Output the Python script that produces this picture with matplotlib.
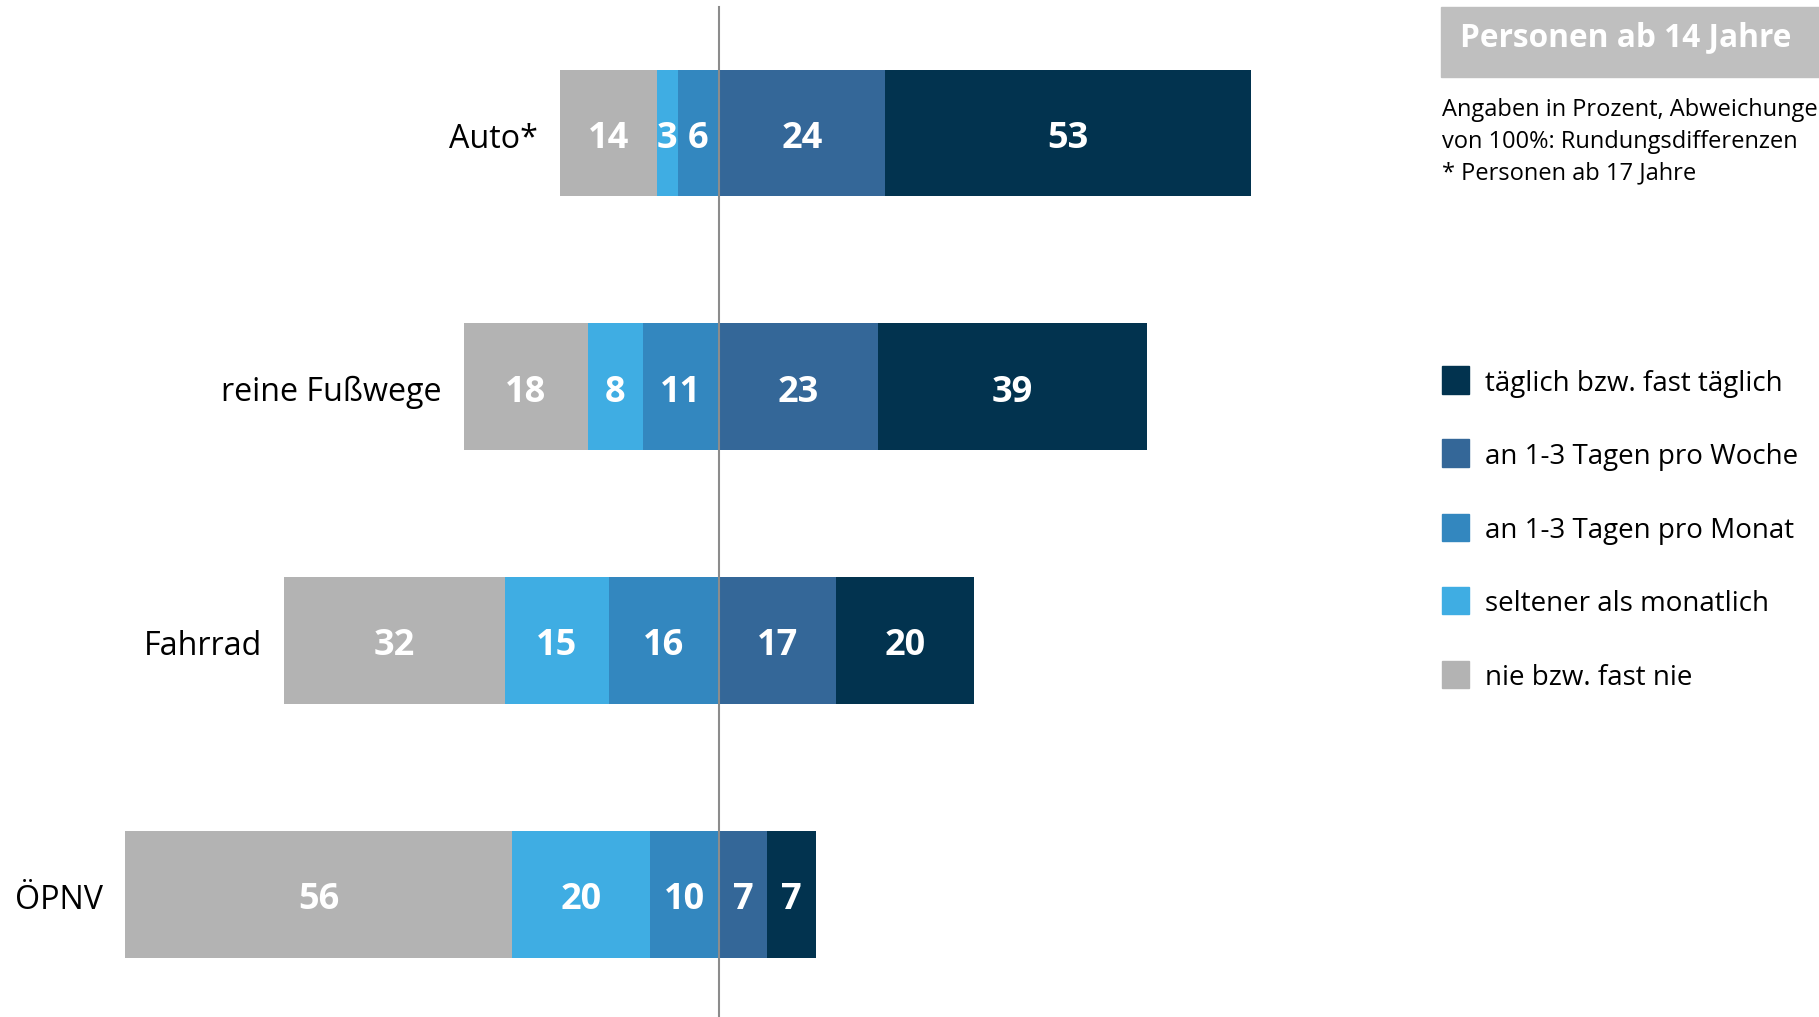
import numpy as np
import matplotlib.pyplot as plt
from matplotlib.patches import Rectangle

plt.rcParams['font.family'] = ['Open Sans', 'DejaVu Sans']

# Nutzungshäufigkeit der Verkehrsmittel, Angaben in Prozent
modes = ['Auto*', 'reine Fußwege', 'Fahrrad', 'ÖPNV']
nie = [14, 18, 32, 56]
seltener = [3, 8, 15, 20]
monatlich = [6, 11, 16, 10]
woechentlich = [24, 23, 17, 7]
taeglich = [53, 39, 20, 7]

legend_labels = ['täglich bzw. fast täglich', 'an 1-3 Tagen pro Woche',
                 'an 1-3 Tagen pro Monat', 'seltener als monatlich',
                 'nie bzw. fast nie']
colors = ['#02334f', '#346798', '#3387bf', '#3fade3', '#b3b3b3']
c_tag, c_woche, c_monat, c_selten, c_nie = colors

W, H = 1819, 1017
fig = plt.figure(figsize=(W / 100, H / 100), dpi=100)
ax = fig.add_axes([0, 0, 1, 1])

# pixel layout: 6.905 px per percent, zero line at x=719
pxp = 6.905
x0 = 719
ax.set_xlim(-x0 / pxp, (W - x0) / pxp)
step = 253.7
y_first = 133
ax.set_ylim((H - y_first) / step, -y_first / step)
ax.axis('off')

y = np.arange(len(modes))
nie = np.array(nie); seltener = np.array(seltener); monatlich = np.array(monatlich)
woechentlich = np.array(woechentlich); taeglich = np.array(taeglich)

# left side: monthly next to zero, then rarer, then never
left_parts = [(monatlich, -monatlich, c_monat),
              (seltener, -(monatlich + seltener), c_selten),
              (nie, -(monatlich + seltener + nie), c_nie)]
right_parts = [(woechentlich, np.zeros(len(modes)), c_woche),
               (taeglich, woechentlich, c_tag)]

dy = 6 / step  # text sits a little below the bar centre
for vals, lefts, col in left_parts + right_parts:
    ax.barh(y, vals, left=lefts, height=0.5, color=col, linewidth=0)
    for yi, v, l in zip(y, vals, lefts):
        ax.text(l + v / 2, yi + dy, str(v), ha='center', va='center',
                color='white', fontsize=26, fontweight='bold')

left_total = monatlich + seltener + nie
for yi, name, lt in zip(y, modes, left_total):
    ax.text(-lt - 3.2, yi + dy, name, ha='right', va='center',
            fontsize=23.2, color='black')

ax.axvline(0, ymin=0, ymax=1 - 7 / H, color='#8c8c8c', lw=1.5)


def fx(px):
    return px / W


def fy(py):
    return 1 - py / H


# header box
fig.patches.append(Rectangle((fx(1441), fy(77)), fx(W - 1441) + 0.01, (77 - 7) / H,
                             transform=fig.transFigure, color='#bfbfbf', zorder=0))
fig.text(fx(1626), fy(38), 'Personen ab 14 Jahre', ha='center', va='center',
         color='white', fontsize=22.8, fontweight='bold')

fig.text(fx(1442), fy(98), 'Angaben in Prozent, Abweichungen\nvon 100%: Rundungsdifferenzen\n* Personen ab 17 Jahre',
         ha='left', va='top', fontsize=17, linespacing=1.42, color='black')

# legend
leg_y = [380, 453, 527, 600, 674]
for ly, lab, col in zip(leg_y, legend_labels, colors):
    fig.patches.append(Rectangle((fx(1442), fy(ly + 13.5)), 27 / W, 27 / H,
                                 transform=fig.transFigure, color=col))
    fig.text(fx(1485), fy(ly + 4), lab, ha='left', va='center', fontsize=20, color='black')

fig.savefig('out.png', dpi=100)
